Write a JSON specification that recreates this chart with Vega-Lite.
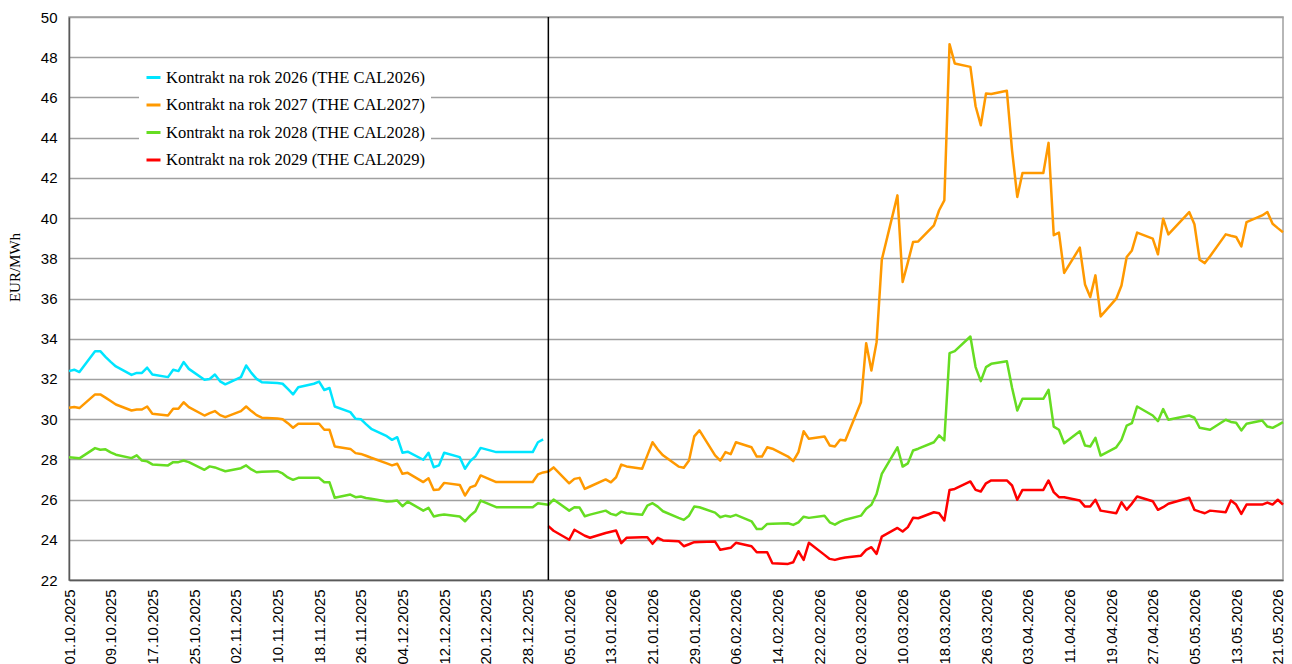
{
  "$schema": "https://vega.github.io/schema/vega-lite/v6.json",
  "width": 1214,
  "height": 563,
  "autosize": {"type": "none"},
  "padding": {"left": 69, "top": 17, "right": 9, "bottom": 84},
  "background": "white",
  "config": {"view": {"stroke": "#a0a0a0", "strokeWidth": 1.5}},
  "layer": [
    {
      "data": {"values": [
        {"d":"2025-10-01","c26":32.39,"c27":30.57,"c28":28.11},
        {"d":"2025-10-02","c26":32.46,"c27":30.6,"c28":28.08},
        {"d":"2025-10-03","c26":32.34,"c27":30.55,"c28":28.05},
        {"d":"2025-10-06","c26":33.38,"c27":31.23,"c28":28.56},
        {"d":"2025-10-07","c26":33.38,"c27":31.23,"c28":28.48},
        {"d":"2025-10-08","c26":33.1,"c27":31.07,"c28":28.5},
        {"d":"2025-10-09","c26":32.85,"c27":30.9,"c28":28.35},
        {"d":"2025-10-10","c26":32.62,"c27":30.73,"c28":28.23},
        {"d":"2025-10-13","c26":32.2,"c27":30.43,"c28":28.06},
        {"d":"2025-10-14","c26":32.3,"c27":30.48,"c28":28.2},
        {"d":"2025-10-15","c26":32.3,"c27":30.48,"c28":27.94},
        {"d":"2025-10-16","c26":32.56,"c27":30.63,"c28":27.9},
        {"d":"2025-10-17","c26":32.22,"c27":30.27,"c28":27.75},
        {"d":"2025-10-20","c26":32.09,"c27":30.18,"c28":27.7},
        {"d":"2025-10-21","c26":32.46,"c27":30.52,"c28":27.86},
        {"d":"2025-10-22","c26":32.39,"c27":30.52,"c28":27.86},
        {"d":"2025-10-23","c26":32.84,"c27":30.84,"c28":27.94},
        {"d":"2025-10-24","c26":32.5,"c27":30.6,"c28":27.86},
        {"d":"2025-10-27","c26":31.96,"c27":30.18,"c28":27.48},
        {"d":"2025-10-28","c26":32.0,"c27":30.3,"c28":27.65},
        {"d":"2025-10-29","c26":32.22,"c27":30.4,"c28":27.6},
        {"d":"2025-10-30","c26":31.88,"c27":30.2,"c28":27.5},
        {"d":"2025-10-31","c26":31.73,"c27":30.1,"c28":27.41},
        {"d":"2025-11-03","c26":32.09,"c27":30.4,"c28":27.56},
        {"d":"2025-11-04","c26":32.67,"c27":30.63,"c28":27.7},
        {"d":"2025-11-05","c26":32.3,"c27":30.4,"c28":27.5},
        {"d":"2025-11-06","c26":32.0,"c27":30.2,"c28":27.36},
        {"d":"2025-11-07","c26":31.84,"c27":30.07,"c28":27.38},
        {"d":"2025-11-10","c26":31.8,"c27":30.03,"c28":27.41},
        {"d":"2025-11-11","c26":31.76,"c27":30.0,"c28":27.3},
        {"d":"2025-11-12","c26":31.5,"c27":29.8,"c28":27.1},
        {"d":"2025-11-13","c26":31.23,"c27":29.57,"c28":26.98},
        {"d":"2025-11-14","c26":31.59,"c27":29.77,"c28":27.08},
        {"d":"2025-11-17","c26":31.76,"c27":29.77,"c28":27.08},
        {"d":"2025-11-18","c26":31.87,"c27":29.77,"c28":27.08},
        {"d":"2025-11-19","c26":31.45,"c27":29.47,"c28":26.86},
        {"d":"2025-11-20","c26":31.55,"c27":29.47,"c28":26.86},
        {"d":"2025-11-21","c26":30.63,"c27":28.64,"c28":26.09},
        {"d":"2025-11-24","c26":30.35,"c27":28.52,"c28":26.25},
        {"d":"2025-11-25","c26":30.02,"c27":28.31,"c28":26.12},
        {"d":"2025-11-26","c26":30.0,"c27":28.27,"c28":26.15},
        {"d":"2025-11-27","c26":29.75,"c27":28.18,"c28":26.08},
        {"d":"2025-11-28","c26":29.52,"c27":28.08,"c28":26.04},
        {"d":"2025-12-01","c26":29.15,"c27":27.8,"c28":25.9},
        {"d":"2025-12-02","c26":28.97,"c27":27.7,"c28":25.92},
        {"d":"2025-12-03","c26":29.1,"c27":27.78,"c28":25.95},
        {"d":"2025-12-04","c26":28.33,"c27":27.28,"c28":25.67},
        {"d":"2025-12-05","c26":28.38,"c27":27.33,"c28":25.9},
        {"d":"2025-12-08","c26":27.98,"c27":26.87,"c28":25.45},
        {"d":"2025-12-09","c26":28.33,"c27":27.06,"c28":25.59},
        {"d":"2025-12-10","c26":27.61,"c27":26.48,"c28":25.16},
        {"d":"2025-12-11","c26":27.7,"c27":26.5,"c28":25.22},
        {"d":"2025-12-12","c26":28.33,"c27":26.83,"c28":25.26},
        {"d":"2025-12-15","c26":28.11,"c27":26.73,"c28":25.16},
        {"d":"2025-12-16","c26":27.53,"c27":26.2,"c28":24.92},
        {"d":"2025-12-17","c26":27.91,"c27":26.61,"c28":25.2},
        {"d":"2025-12-18","c26":28.15,"c27":26.7,"c28":25.42},
        {"d":"2025-12-19","c26":28.57,"c27":27.2,"c28":25.95},
        {"d":"2025-12-22","c26":28.36,"c27":26.87,"c28":25.62},
        {"d":"2025-12-23","c26":28.36,"c27":26.87,"c28":25.62},
        {"d":"2025-12-24","c26":28.36,"c27":26.87,"c28":25.62},
        {"d":"2025-12-29","c26":28.36,"c27":26.87,"c28":25.62},
        {"d":"2025-12-30","c26":28.85,"c27":27.25,"c28":25.82},
        {"d":"2025-12-31","c26":28.99,"c27":27.35,"c28":25.78},
        {"d":"2026-01-01","c27":27.4,"c28":25.74,"c29":24.68},
        {"d":"2026-01-02","c27":27.6,"c28":26.0,"c29":24.45},
        {"d":"2026-01-05","c27":26.81,"c28":25.45,"c29":24.0},
        {"d":"2026-01-06","c27":27.03,"c28":25.62,"c29":24.5},
        {"d":"2026-01-07","c27":27.08,"c28":25.6,"c29":24.35},
        {"d":"2026-01-08","c27":26.53,"c28":25.17,"c29":24.2},
        {"d":"2026-01-09","c27":26.65,"c28":25.25,"c29":24.1},
        {"d":"2026-01-12","c27":27.0,"c28":25.45,"c29":24.34},
        {"d":"2026-01-13","c27":26.86,"c28":25.29,"c29":24.4},
        {"d":"2026-01-14","c27":27.11,"c28":25.22,"c29":24.46},
        {"d":"2026-01-15","c27":27.74,"c28":25.4,"c29":23.83},
        {"d":"2026-01-16","c27":27.65,"c28":25.32,"c29":24.1},
        {"d":"2026-01-19","c27":27.53,"c28":25.24,"c29":24.12},
        {"d":"2026-01-20","c27":28.2,"c28":25.7,"c29":24.13},
        {"d":"2026-01-21","c27":28.85,"c28":25.82,"c29":23.8},
        {"d":"2026-01-22","c27":28.49,"c28":25.65,"c29":24.1},
        {"d":"2026-01-23","c27":28.2,"c28":25.42,"c29":23.97},
        {"d":"2026-01-26","c27":27.64,"c28":25.09,"c29":23.93},
        {"d":"2026-01-27","c27":27.58,"c28":24.99,"c29":23.68},
        {"d":"2026-01-28","c27":27.94,"c28":25.2,"c29":23.78},
        {"d":"2026-01-29","c27":29.14,"c28":25.65,"c29":23.88},
        {"d":"2026-01-30","c27":29.44,"c28":25.62,"c29":23.89},
        {"d":"2026-02-02","c27":28.2,"c28":25.35,"c29":23.91},
        {"d":"2026-02-03","c27":27.94,"c28":25.12,"c29":23.5},
        {"d":"2026-02-04","c27":28.36,"c28":25.2,"c29":23.55},
        {"d":"2026-02-05","c27":28.26,"c28":25.15,"c29":23.6},
        {"d":"2026-02-06","c27":28.85,"c28":25.24,"c29":23.85},
        {"d":"2026-02-09","c27":28.6,"c28":24.92,"c29":23.68},
        {"d":"2026-02-10","c27":28.14,"c28":24.54,"c29":23.38},
        {"d":"2026-02-11","c27":28.14,"c28":24.54,"c29":23.38},
        {"d":"2026-02-12","c27":28.6,"c28":24.79,"c29":23.38},
        {"d":"2026-02-13","c27":28.53,"c28":24.8,"c29":22.83},
        {"d":"2026-02-16","c27":28.14,"c28":24.82,"c29":22.8},
        {"d":"2026-02-17","c27":27.91,"c28":24.74,"c29":22.88},
        {"d":"2026-02-18","c27":28.36,"c28":24.87,"c29":23.43},
        {"d":"2026-02-19","c27":29.4,"c28":25.15,"c29":23.0},
        {"d":"2026-02-20","c27":29.02,"c28":25.09,"c29":23.85},
        {"d":"2026-02-23","c27":29.14,"c28":25.2,"c29":23.25},
        {"d":"2026-02-24","c27":28.69,"c28":24.87,"c29":23.05},
        {"d":"2026-02-25","c27":28.64,"c28":24.75,"c29":23.0},
        {"d":"2026-02-26","c27":28.97,"c28":24.9,"c29":23.07},
        {"d":"2026-02-27","c27":28.94,"c28":25.0,"c29":23.12},
        {"d":"2026-03-02","c27":30.84,"c28":25.2,"c29":23.21},
        {"d":"2026-03-03","c27":33.78,"c28":25.54,"c29":23.5},
        {"d":"2026-03-04","c27":32.42,"c28":25.74,"c29":23.63},
        {"d":"2026-03-05","c27":33.83,"c28":26.28,"c29":23.3},
        {"d":"2026-03-06","c27":37.93,"c28":27.28,"c29":24.16},
        {"d":"2026-03-09","c27":41.13,"c28":28.6,"c29":24.59},
        {"d":"2026-03-10","c27":36.82,"c28":27.64,"c29":24.41},
        {"d":"2026-03-11","c27":37.8,"c28":27.8,"c29":24.63},
        {"d":"2026-03-12","c27":38.81,"c28":28.44,"c29":25.09},
        {"d":"2026-03-13","c27":38.84,"c28":28.53,"c29":25.07},
        {"d":"2026-03-16","c27":39.64,"c28":28.85,"c29":25.37},
        {"d":"2026-03-17","c27":40.39,"c28":29.19,"c29":25.32},
        {"d":"2026-03-18","c27":40.88,"c28":28.94,"c29":24.96},
        {"d":"2026-03-19","c27":48.65,"c28":33.28,"c29":26.48},
        {"d":"2026-03-20","c27":47.69,"c28":33.38,"c29":26.53},
        {"d":"2026-03-23","c27":47.52,"c28":34.11,"c29":26.9},
        {"d":"2026-03-24","c27":45.56,"c28":32.59,"c29":26.48},
        {"d":"2026-03-25","c27":44.62,"c28":31.89,"c29":26.4},
        {"d":"2026-03-26","c27":46.2,"c28":32.59,"c29":26.81},
        {"d":"2026-03-27","c27":46.17,"c28":32.75,"c29":26.95},
        {"d":"2026-03-30","c27":46.33,"c28":32.88,"c29":26.95},
        {"d":"2026-03-31","c27":43.37,"c28":31.56,"c29":26.7},
        {"d":"2026-04-01","c27":41.05,"c28":30.43,"c29":25.99},
        {"d":"2026-04-02","c27":42.24,"c28":31.01,"c29":26.48},
        {"d":"2026-04-06","c27":42.24,"c28":31.01,"c29":26.48},
        {"d":"2026-04-07","c27":43.74,"c28":31.46,"c29":26.95},
        {"d":"2026-04-08","c27":39.15,"c28":29.63,"c29":26.37},
        {"d":"2026-04-09","c27":39.28,"c28":29.47,"c29":26.12},
        {"d":"2026-04-10","c27":37.27,"c28":28.8,"c29":26.12},
        {"d":"2026-04-13","c27":38.53,"c28":29.4,"c29":25.95},
        {"d":"2026-04-14","c27":36.7,"c28":28.69,"c29":25.65},
        {"d":"2026-04-15","c27":36.07,"c28":28.64,"c29":25.65},
        {"d":"2026-04-16","c27":37.15,"c28":29.07,"c29":25.99},
        {"d":"2026-04-17","c27":35.11,"c28":28.19,"c29":25.45},
        {"d":"2026-04-20","c27":35.99,"c28":28.6,"c29":25.32},
        {"d":"2026-04-21","c27":36.65,"c28":28.97,"c29":25.87},
        {"d":"2026-04-22","c27":38.06,"c28":29.68,"c29":25.5},
        {"d":"2026-04-23","c27":38.39,"c28":29.8,"c29":25.8},
        {"d":"2026-04-24","c27":39.28,"c28":30.63,"c29":26.15},
        {"d":"2026-04-27","c27":38.98,"c28":30.18,"c29":25.92},
        {"d":"2026-04-28","c27":38.2,"c28":29.9,"c29":25.49},
        {"d":"2026-04-29","c27":39.97,"c28":30.5,"c29":25.62},
        {"d":"2026-04-30","c27":39.19,"c28":29.97,"c29":25.79},
        {"d":"2026-05-04","c27":40.3,"c28":30.18,"c29":26.09},
        {"d":"2026-05-05","c27":39.69,"c28":30.07,"c29":25.49},
        {"d":"2026-05-06","c27":37.93,"c28":29.57,"c29":25.4},
        {"d":"2026-05-07","c27":37.76,"c28":29.52,"c29":25.32},
        {"d":"2026-05-08","c27":38.1,"c28":29.47,"c29":25.45},
        {"d":"2026-05-11","c27":39.19,"c28":29.97,"c29":25.37},
        {"d":"2026-05-12","c27":39.12,"c28":29.86,"c29":25.95},
        {"d":"2026-05-13","c27":39.06,"c28":29.82,"c29":25.75},
        {"d":"2026-05-14","c27":38.59,"c28":29.44,"c29":25.29},
        {"d":"2026-05-15","c27":39.8,"c28":29.77,"c29":25.75},
        {"d":"2026-05-18","c27":40.13,"c28":29.93,"c29":25.75},
        {"d":"2026-05-19","c27":40.3,"c28":29.63,"c29":25.85},
        {"d":"2026-05-20","c27":39.72,"c28":29.57,"c29":25.75},
        {"d":"2026-05-21","c27":39.5,"c28":29.7,"c29":25.99},
        {"d":"2026-05-22","c27":39.3,"c28":29.85,"c29":25.75}
      ]},
      "transform": [{"fold": ["c26", "c27", "c28", "c29"], "as": ["s", "v"]}],
      "mark": {"type": "line", "strokeWidth": 2.5, "strokeJoin": "round"},
      "encoding": {
        "x": {
          "field": "d", "type": "temporal",
          "scale": {"type": "utc", "domain": [{"year": 2025, "month": 10, "date": 1, "utc": true}, {"year": 2026, "month": 5, "date": 22, "utc": true}]},
          "axis": {
            "values": [
              {"year": 2025, "month": 10, "date": 1, "utc": true},
              {"year": 2025, "month": 10, "date": 9, "utc": true},
              {"year": 2025, "month": 10, "date": 17, "utc": true},
              {"year": 2025, "month": 10, "date": 25, "utc": true},
              {"year": 2025, "month": 11, "date": 2, "utc": true},
              {"year": 2025, "month": 11, "date": 10, "utc": true},
              {"year": 2025, "month": 11, "date": 18, "utc": true},
              {"year": 2025, "month": 11, "date": 26, "utc": true},
              {"year": 2025, "month": 12, "date": 4, "utc": true},
              {"year": 2025, "month": 12, "date": 12, "utc": true},
              {"year": 2025, "month": 12, "date": 20, "utc": true},
              {"year": 2025, "month": 12, "date": 28, "utc": true},
              {"year": 2026, "month": 1, "date": 5, "utc": true},
              {"year": 2026, "month": 1, "date": 13, "utc": true},
              {"year": 2026, "month": 1, "date": 21, "utc": true},
              {"year": 2026, "month": 1, "date": 29, "utc": true},
              {"year": 2026, "month": 2, "date": 6, "utc": true},
              {"year": 2026, "month": 2, "date": 14, "utc": true},
              {"year": 2026, "month": 2, "date": 22, "utc": true},
              {"year": 2026, "month": 3, "date": 2, "utc": true},
              {"year": 2026, "month": 3, "date": 10, "utc": true},
              {"year": 2026, "month": 3, "date": 18, "utc": true},
              {"year": 2026, "month": 3, "date": 26, "utc": true},
              {"year": 2026, "month": 4, "date": 3, "utc": true},
              {"year": 2026, "month": 4, "date": 11, "utc": true},
              {"year": 2026, "month": 4, "date": 19, "utc": true},
              {"year": 2026, "month": 4, "date": 27, "utc": true},
              {"year": 2026, "month": 5, "date": 5, "utc": true},
              {"year": 2026, "month": 5, "date": 13, "utc": true},
              {"year": 2026, "month": 5, "date": 21, "utc": true}
            ],
            "labelExpr": "utcFormat(datum.value, '%d.%m.%Y')",
            "labelAngle": 270, "labelAlign": "right", "labelBaseline": "middle",
            "labelPadding": 9, "labelFont": "Liberation Sans", "labelFontSize": 15, "labelColor": "#000000",
            "labelOverlap": false, "labelFlush": false, "labelBound": false,
            "ticks": false, "grid": false, "domainColor": "#595959", "domainWidth": 1.5, "title": null
          }
        },
        "y": {
          "field": "v", "type": "quantitative",
          "scale": {"domain": [22, 50], "nice": false, "zero": false},
          "axis": {
            "values": [22, 24, 26, 28, 30, 32, 34, 36, 38, 40, 42, 44, 46, 48, 50],
            "grid": true, "gridColor": "#a0a0a0", "gridWidth": 1.5,
            "ticks": false, "domainColor": "#595959", "domainWidth": 1.5,
            "labelFont": "Liberation Sans", "labelFontSize": 15, "labelColor": "#000000", "labelPadding": 12,
            "title": "EUR/MWh", "titleFont": "Liberation Serif", "titleFontSize": 15, "titleFontWeight": "normal",
            "titleColor": "#000000", "titleAngle": 270, "titleX": -55, "titleY": 250,
            "titleAlign": "center", "titleBaseline": "middle"
          }
        },
        "color": {
          "field": "s", "type": "nominal",
          "scale": {"domain": ["c26", "c27", "c28", "c29"], "range": ["#00E5FF", "#FF9900", "#66DD22", "#FF0000"]},
          "legend": {
            "title": null, "orient": "none", "legendX": 70, "legendY": 46, "direction": "vertical",
            "fillColor": "white", "padding": 6,
            "symbolType": "stroke", "symbolSize": 196, "symbolStrokeWidth": 3,
            "labelFont": "Liberation Serif", "labelFontSize": 16.5, "labelColor": "#000000", "labelOffset": 4,
            "labelLimit": 400, "rowPadding": 10.5,
            "labelExpr": "datum.label == 'c26' ? 'Kontrakt na rok 2026 (THE CAL2026)' : datum.label == 'c27' ? 'Kontrakt na rok 2027 (THE CAL2027)' : datum.label == 'c28' ? 'Kontrakt na rok 2028 (THE CAL2028)' : 'Kontrakt na rok 2029 (THE CAL2029)'"
          }
        }
      }
    },
    {
      "data": {"values": [{"d": "2026-01-01"}]},
      "mark": {"type": "rule", "color": "#000000", "strokeWidth": 1.5},
      "encoding": {"x": {"field": "d", "type": "temporal"}}
    }
  ]
}
